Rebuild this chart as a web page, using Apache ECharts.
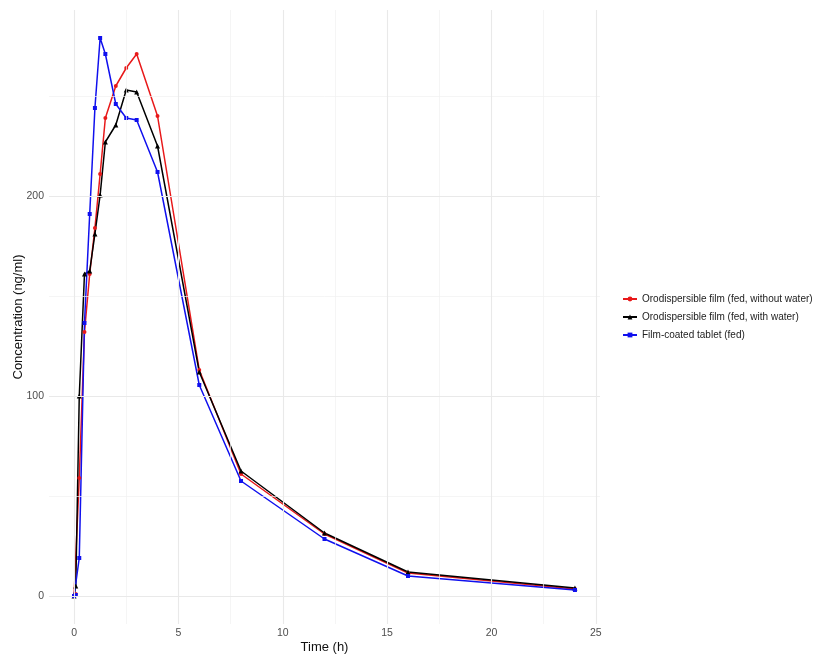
<!DOCTYPE html>
<html>
<head>
<meta charset="utf-8">
<script src="https://cdn.jsdelivr.net/npm/echarts@6/dist/echarts.min.js"></script>
<style>html,body{margin:0;padding:0;background:#fff;}#c{width:813px;height:656px;}</style>
</head>
<body>
<div id="c"></div>
<script>
const timeH = [0, 0.083, 0.25, 0.5, 0.75, 1, 1.25, 1.5, 2, 2.5, 3, 4, 6, 8, 12, 16, 24];
const filmNoWater = [0, 1, 59, 132, 161, 184, 211, 239, 255, 264, 271, 240, 113, 61, 31, 11.5, 3.5];
const filmWater = [0, 5, 100, 161, 162.5, 181, 200.5, 227, 235.5, 253, 252, 225, 112, 62.5, 31.5, 12, 4];
const tablet = [0, 0.5, 19, 136.5, 191, 244, 279, 271, 246, 239, 238, 212, 105.5, 57.5, 28.5, 10, 3];
const seriesNames = ['Orodispersible film (fed, without water)', 'Orodispersible film (fed, with water)', 'Film-coated tablet (fed)'];
const xMajorTicks = [0, 5, 10, 15, 20, 25];
const xMinorTicks = [2.5, 7.5, 12.5, 17.5, 22.5];
const yMajorTicks = [0, 100, 200];
const yMinorTicks = [50, 150, 250];

const font = 'Liberation Sans, Arial, sans-serif';
function pairs(vals){ return timeH.map((t,i)=>[t, vals[i]]); }
const majorStyle = {color:'#e9e9e9', width:1.1, type:'solid'};
const minorStyle = {color:'#f1f1f1', width:0.7, type:'solid'};
const gridLines = [].concat(
  xMinorTicks.map(v=>({xAxis:v, lineStyle:minorStyle})),
  yMinorTicks.map(v=>({yAxis:v, lineStyle:minorStyle})),
  xMajorTicks.map(v=>({xAxis:v, lineStyle:majorStyle})),
  yMajorTicks.map(v=>({yAxis:v, lineStyle:majorStyle}))
);

function mk(name, vals, color, symbol, size){
  return {
    name, type:'line', data:pairs(vals), symbol, symbolSize:size,
    lineStyle:{color, width:1.5}, itemStyle:{color}, z:3
  };
}

const chart = echarts.init(document.getElementById('c'), null, {renderer:'canvas'});
chart.setOption({
  animation:false,
  backgroundColor:'#fff',
  grid:{left:49, right:213, top:10, bottom:32, containLabel:false, outerBoundsMode:'none'},
  legend:{
    data:seriesNames, orient:'vertical', left:617, top:289,
    itemWidth:14, itemHeight:6, itemGap:8,
    textStyle:{fontFamily:font, fontSize:10, color:'#222'}
  },
  xAxis:{
    type:'value', min:-1.2, max:25.2,
    name:'Time (h)', nameLocation:'middle', nameGap:17, nameMoveOverlap:false,
    nameTextStyle:{fontFamily:font, fontSize:13, color:'#111'},
    axisLine:{show:false}, axisTick:{show:false},
    splitLine:{show:false},
    axisLabel:{customValues:xMajorTicks, fontFamily:font, fontSize:10.5, color:'#4d4d4d', margin:4}
  },
  yAxis:{
    type:'value', min:-14, max:293,
    name:'Concentration (ng/ml)', nameLocation:'middle', nameGap:24, nameRotate:90, nameMoveOverlap:false,
    nameTextStyle:{fontFamily:font, fontSize:13, color:'#111'},
    axisLine:{show:false}, axisTick:{show:false},
    splitLine:{show:false},
    axisLabel:{customValues:yMajorTicks, fontFamily:font, fontSize:10.5, color:'#4d4d4d', margin:5}
  },
  series:[
    {type:'line', data:[], silent:true, z:1,
     markLine:{silent:true, symbol:['none','none'], label:{show:false}, animation:false, data:gridLines}},
    mk(seriesNames[0], filmNoWater, '#e8191a', 'circle', 4),
    mk(seriesNames[1], filmWater, '#000000', 'triangle', 5),
    mk(seriesNames[2], tablet, '#1010ee', 'rect', 4)
  ]
});
</script>
</body>
</html>
